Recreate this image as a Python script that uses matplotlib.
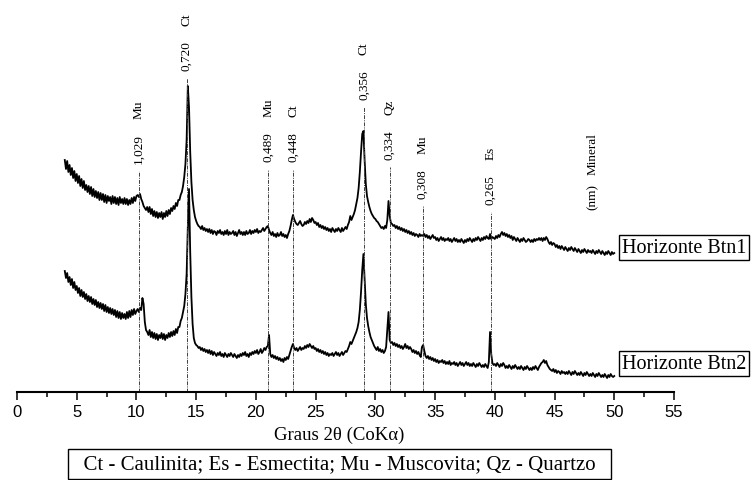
import numpy as np
import matplotlib.pyplot as plt

btn1 = [
    232, 223, 231, 220, 227, 217, 224, 214, 221, 211,
    218, 209, 216, 206, 213, 204, 211, 202, 207, 200,
    206, 198, 205, 196, 203, 195, 201, 194, 200, 192,
    199, 192, 198, 190, 197, 189, 196, 191, 195, 188,
    196, 189, 195, 188, 194, 187, 195, 189, 193, 188,
    194, 188, 193, 187, 192, 188, 194, 189, 195, 191,
    196, 197, 195, 198, 193, 190, 186, 184, 182, 185,
    180, 185, 178, 183, 176, 181, 175, 180, 174, 179,
    175, 180, 173, 179, 175, 181, 176, 182, 178, 184,
    181, 186, 183, 189, 186, 192, 192, 197, 200, 206,
    215, 228, 252, 306, 285, 240, 210, 192, 182, 175,
    171, 168, 166, 165, 163, 166, 162, 164, 161, 163,
    160, 163, 159, 162, 158, 161, 160, 157, 161, 159,
    162, 158, 160, 157, 161, 158, 162, 157, 160, 158,
    159, 161, 157, 160, 156, 159, 162, 158, 160, 157,
    160, 157, 161, 158, 159, 162, 158, 161, 159, 162,
    160, 163, 159, 161, 160, 162, 164, 161, 163, 165,
    166, 162, 159, 157, 160, 156, 158, 155, 159, 156,
    157, 160, 156, 158, 155, 157, 154, 158, 161, 166,
    172, 177, 173, 170, 168, 167, 169, 171, 168, 166,
    167, 170, 168, 171, 169, 173, 170, 174, 172, 169,
    170, 167, 169, 165, 167, 164, 166, 163, 165, 162,
    164, 161, 163, 160, 164, 162, 160, 163, 161, 164,
    162, 160, 164, 161, 163, 165, 163, 167, 170, 176,
    172, 175, 178, 182, 188, 194, 204, 220, 240, 258,
    261, 232, 208, 196, 190, 185, 181, 178, 176, 174,
    173, 171, 170, 168, 166, 164, 165, 163, 166, 164,
    172, 191, 176, 169, 168, 166, 167, 164, 166, 163,
    165, 162, 164, 161, 163, 160, 162, 159, 161, 158,
    160, 157, 159, 156, 158, 157, 155, 158, 156, 157,
    156, 158, 155, 157, 154, 156, 153, 155, 157, 154,
    155, 152, 154, 151, 153, 155, 152, 154, 151, 153,
    152, 154, 151, 153, 150, 152, 154, 151, 153, 150,
    152, 150, 153, 151, 149, 152, 150, 153, 151, 154,
    152, 150, 153, 151, 154, 152, 155, 153, 151, 154,
    152, 155, 153, 156, 154, 153, 158, 153, 155, 154,
    153, 156, 154, 157, 155, 158, 160, 157, 159, 156,
    158, 155, 157, 154, 156, 152, 155, 153, 151, 154,
    152, 150, 153, 151, 154, 152, 150, 151, 153, 152,
    150, 152, 150, 153, 151, 153, 152, 154, 152, 154,
    151, 154, 152, 155, 153, 150, 148, 150, 147, 149,
    148, 145, 147, 144, 146, 143, 146, 144, 142, 145,
    143, 141, 144, 142, 145, 143, 141, 144, 142, 140,
    143, 141, 139, 142, 140, 143, 141, 139, 142, 140,
    141, 139, 142, 140, 138, 141, 139, 142, 140, 138,
    141, 139, 137, 140, 138, 141, 139, 137, 140, 138,
    139,
]

btn2 = [
    121, 114, 119, 110, 115, 107, 113, 104, 110, 102,
    106, 99, 104, 96, 102, 95, 100, 93, 98, 91,
    96, 90, 95, 88, 93, 87, 92, 85, 90, 84,
    89, 83, 88, 81, 87, 80, 85, 79, 84, 78,
    83, 77, 82, 75, 81, 74, 80, 73, 79, 74,
    78, 73, 80, 74, 81, 75, 82, 77, 83, 78,
    81, 83, 80, 84, 82, 94, 88, 70, 62, 60,
    57, 62, 55, 60, 54, 59, 53, 58, 52, 57,
    54, 59, 53, 58, 52, 57, 54, 59, 55, 60,
    56, 61, 57, 63, 59, 65, 65, 71, 74, 80,
    86, 98, 118, 165, 203, 140, 95, 68, 54, 49,
    47, 46, 44, 45, 42, 44, 41, 43, 40, 42,
    39, 42, 38, 41, 37, 40, 38, 36, 39, 37,
    40, 36, 38, 35, 39, 37, 35, 38, 36, 39,
    37, 35, 38, 36, 34, 37, 35, 38, 36, 39,
    37, 40, 36, 38, 35, 39, 37, 40, 38, 41,
    39, 42, 38, 40, 43, 39, 41, 44, 42, 45,
    46, 57, 38, 35, 37, 34, 36, 33, 35, 32,
    34, 31, 33, 30, 34, 32, 35, 33, 37, 41,
    45, 48, 44, 42, 44, 41, 43, 45, 42, 44,
    43, 46, 44, 47, 45, 48, 46, 44, 46, 43,
    44, 41, 43, 40, 42, 39, 41, 38, 40, 37,
    39, 36, 38, 37, 39, 36, 38, 40, 37, 39,
    36, 38, 40, 37, 39, 41, 40, 43, 46, 50,
    48, 51, 54, 57, 60, 64, 70, 82, 100, 122,
    138, 112, 88, 74, 66, 60, 55, 52, 49, 46,
    44, 42, 45, 41, 43, 40, 42, 39, 41, 45,
    62, 80, 52, 49, 50, 47, 49, 46, 48, 45,
    47, 44, 46, 43, 45, 48, 44, 46, 43, 45,
    43, 40, 42, 39, 41, 38, 40, 37, 35, 45,
    47, 41, 36, 34, 36, 33, 35, 32, 34, 31,
    33, 30, 32, 29, 31, 30, 32, 29, 31, 28,
    30, 28, 31, 27, 29, 28, 30, 27, 29, 26,
    28, 30, 27, 29, 26, 28, 30, 27, 29, 26,
    28, 26, 29, 27, 25, 28, 26, 29, 27, 25,
    27, 25, 28, 26, 24, 30, 60, 38, 29, 27,
    28, 26, 29, 27, 25, 28, 26, 29, 27, 24,
    26, 24, 27, 25, 23, 26, 24, 27, 25, 23,
    25, 23, 26, 24, 22, 25, 23, 26, 24, 22,
    24, 22, 25, 23, 26, 24, 22, 25, 27, 29,
    30, 32, 29, 31, 27, 25, 23, 22, 21, 23,
    20, 22, 19, 21, 20, 18, 21, 19, 20, 18,
    20, 18, 21, 19, 17, 20, 18, 21, 19, 17,
    19, 17, 20, 18, 16, 19, 17, 20, 18, 16,
    18, 16, 19, 17, 15, 18, 16, 19, 17, 15,
    17, 15, 18, 16, 14, 17, 15, 18, 16, 15,
    16,
]

two_theta = np.round(np.linspace(4, 50, len(btn1)), 2)

# picos identificados
peak_pos = [10.2, 14.2, 21.03, 23.12, 29.04, 31.2, 33.95, 39.64]
d_nm = ['1,029', '0,720', '0,489', '0,448', '0,356', '0,334', '0,308', '0,265']
minerals = ['Mu', 'Ct', 'Mu', 'Ct', 'Ct', 'Qz', 'Mu', 'Es']
line_top = [221, 314, 223, 223, 285, 225, 186, 180]

serif = 'Liberation Serif'
lab_size = 9.5

fig = plt.figure(figsize=(7.52, 4.81), dpi=100)
ax = fig.add_axes([17 / 752, 88 / 481, 657 / 752, 393 / 481])

ax.plot(two_theta, btn1, color='black', lw=1.3)
ax.plot(two_theta, btn2, color='black', lw=1.3)

for x, top, d, m in zip(peak_pos, line_top, d_nm, minerals):
    ax.plot([x, x], [0, top], color='0.25', lw=0.7, ls=(0, (4, 1.2, 1, 1.2)))
    ax.text(x, top + 8, d, rotation=90, ha='center', va='bottom',
            fontsize=lab_size, family=serif)
    ax.text(x, top + 53, m, rotation=90, ha='center', va='bottom',
            fontsize=lab_size, family=serif)

ax.text(48.2, 183, '(nm)', rotation=90, ha='center', va='bottom', fontsize=lab_size, family=serif)
ax.text(48.2, 218, 'Mineral', rotation=90, ha='center', va='bottom', fontsize=lab_size, family=serif)

ax.set_xlim(0, 55)
ax.set_ylim(0, 393)
for s in ['left', 'right', 'top']:
    ax.spines[s].set_visible(False)
ax.spines['bottom'].set_linewidth(1.5)
ax.set_yticks([])
ax.set_xticks(np.arange(0, 56, 5))
ax.set_xticks(np.arange(2.5, 55, 5), minor=True)
ax.tick_params(axis='x', which='major', length=6, width=1.1, pad=3, labelsize=12)
ax.tick_params(axis='x', which='minor', length=3.5, width=1.1)
for lab in ax.get_xticklabels():
    lab.set_family('Liberation Sans')
ax.patch.set_visible(False)

ax.set_xlabel('Graus 2θ (CoKα)', family=serif, fontsize=13.5)
ax.xaxis.set_label_coords(27.0 / 55, -0.085)

box = dict(boxstyle='square,pad=0.15', facecolor='white', edgecolor='black', lw=1)
fig.text(684 / 752, 1 - 248.5 / 481, 'Horizonte Btn1', ha='center', va='center',
         family=serif, fontsize=14.5, bbox=box)
fig.text(684 / 752, 1 - 364.5 / 481, 'Horizonte Btn2', ha='center', va='center',
         family=serif, fontsize=14.5, bbox=box)

fig.text(339.5 / 752, 1 - 465 / 481, '  Ct - Caulinita; Es - Esmectita; Mu - Muscovita; Qz - Quartzo  ',
         ha='center', va='center', family=serif, fontsize=15,
         bbox=dict(boxstyle='square,pad=0.25', facecolor='white', edgecolor='black', lw=1))

fig.savefig('out.png', dpi=100)
